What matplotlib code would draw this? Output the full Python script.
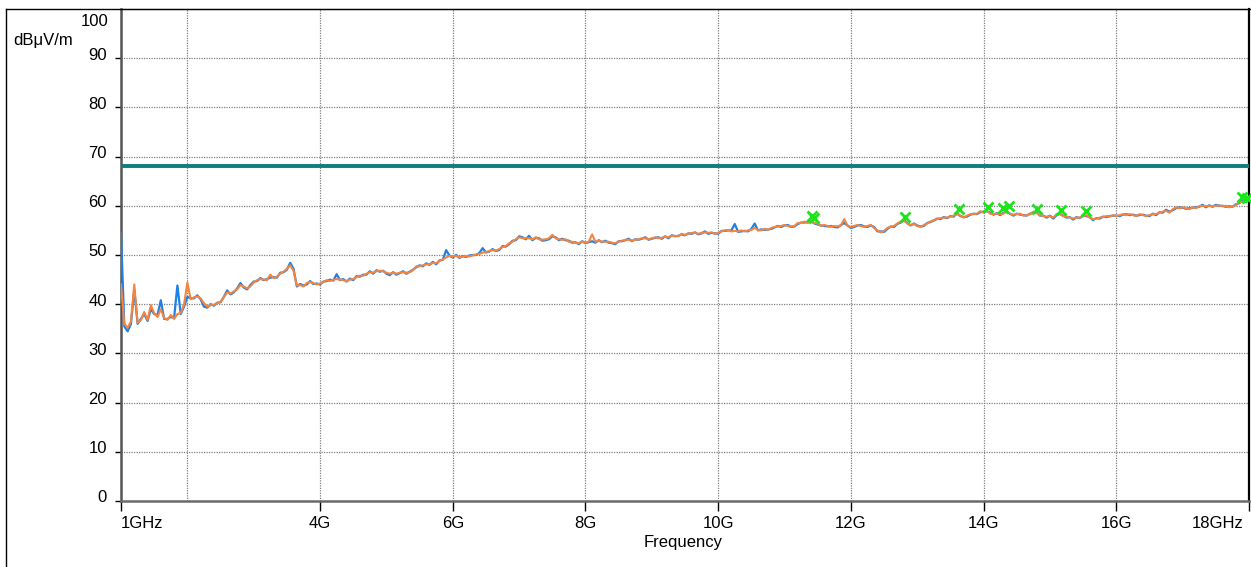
import matplotlib
matplotlib.use('Agg')
import matplotlib.pyplot as plt
import numpy as np
from matplotlib.transforms import ScaledTranslation
from matplotlib.lines import Line2D

plt.rcParams['font.family'] = ['Liberation Sans', 'DejaVu Sans']

# sweep grid in GHz (0.05 GHz steps, 1 - 18 GHz)
freq_ghz = np.round(np.arange(1.0, 18.0001, 0.05), 2)

# orange trace (dBuV/m)
orange_db = [
    44.0, 36.0, 35.2, 36.5, 44.0, 36.2, 36.8, 38.4, 36.8, 39.8,
    38.2, 37.4, 39.0, 37.2, 36.8, 37.8, 37.0, 38.0, 38.2, 39.9,
    44.4, 41.0, 41.4, 41.6, 41.2, 40.2, 39.5, 39.8, 39.9, 40.2,
    40.5, 41.4, 42.4, 42.2, 42.6, 43.0, 43.9, 43.6, 43.2, 43.6,
    44.4, 44.9, 45.1, 45.0, 44.9, 46.0, 45.3, 45.6, 46.2, 46.6,
    47.2, 47.9, 46.8, 43.8, 43.9, 43.6, 44.3, 44.5, 44.3, 44.0,
    44.2, 44.5, 44.9, 44.7, 45.0, 45.1, 45.0, 44.9, 44.7, 45.0,
    45.1, 45.5, 45.8, 45.8, 46.2, 46.5, 46.4, 46.7, 46.8, 46.7,
    46.4, 46.2, 46.4, 46.2, 46.4, 46.5, 46.4, 46.5, 46.9, 47.7,
    47.7, 47.9, 48.1, 48.1, 48.4, 48.3, 48.8, 49.1, 49.5, 49.8,
    49.7, 49.8, 49.5, 49.7, 49.8, 49.7, 49.9, 50.1, 50.2, 50.5,
    50.6, 50.8, 51.0, 50.9, 51.2, 51.6, 51.8, 52.4, 52.7, 53.2,
    53.6, 53.4, 53.4, 53.4, 53.2, 53.6, 53.2, 53.1, 53.2, 53.4,
    54.1, 53.4, 53.2, 53.1, 53.2, 52.7, 52.7, 52.5, 52.4, 52.7,
    52.5, 52.7, 54.2, 52.7, 52.9, 52.7, 52.7, 52.7, 52.5, 52.4,
    52.7, 52.9, 53.1, 53.1, 52.9, 53.1, 53.2, 53.4, 53.4, 53.2,
    53.4, 53.6, 53.4, 53.5, 53.7, 53.6, 53.9, 53.9, 53.8, 54.3,
    54.1, 54.3, 54.5, 54.5, 54.3, 54.5, 54.6, 54.5, 54.6, 54.3,
    54.5, 54.8, 55.0, 55.1, 54.8, 54.9, 54.8, 55.0, 54.8, 55.0,
    55.1, 55.5, 55.1, 55.0, 55.3, 55.1, 55.5, 55.7, 55.8, 55.9,
    56.1, 55.9, 55.8, 55.9, 56.5, 56.5, 56.8, 56.5, 56.8, 56.5,
    56.4, 55.9, 56.1, 55.9, 55.7, 55.9, 55.8, 56.0, 57.3, 55.9,
    55.7, 55.9, 56.1, 55.9, 55.7, 55.9, 56.1, 55.5, 55.0, 54.6,
    54.9, 55.5, 55.7, 55.9, 56.4, 56.8, 57.0, 56.4, 56.1, 56.3,
    55.9, 55.7, 56.1, 56.4, 56.8, 57.1, 57.3, 57.5, 57.6, 57.6,
    57.8, 58.0, 58.3, 58.0, 57.6, 58.0, 58.3, 58.3, 58.4, 58.9,
    58.6, 59.0, 58.4, 58.3, 58.4, 58.3, 58.4, 59.0, 58.3, 58.2,
    58.3, 58.4, 58.0, 58.1, 58.3, 58.8, 58.5, 58.1, 57.9, 57.8,
    57.9, 57.6, 58.3, 58.3, 57.9, 57.8, 57.6, 57.4, 57.6, 57.6,
    57.9, 58.1, 57.6, 57.3, 57.4, 57.6, 57.7, 57.9, 57.8, 58.1,
    57.9, 58.1, 58.3, 58.1, 58.3, 58.1, 57.9, 58.3, 58.1, 57.9,
    58.1, 58.3, 58.3, 58.6, 58.8, 59.0, 58.6, 59.3, 59.7, 59.5,
    59.7, 59.5, 59.3, 59.7, 59.5, 59.9, 60.0, 59.9, 60.0, 59.9,
    60.0, 60.1, 59.9, 60.0, 59.7, 59.9, 60.1, 60.7, 60.8, 61.0,
    61.2,
]

# blue trace (dBuV/m)
blue_db = [
    54.5, 35.5, 34.5, 36.0, 43.0, 36.0, 37.0, 38.0, 36.6, 39.0,
    38.0, 37.8, 40.8, 37.0, 37.0, 37.4, 37.2, 43.8, 38.0, 39.5,
    41.5, 41.2, 41.2, 41.8, 41.0, 39.5, 39.3, 40.0, 39.7, 40.3,
    40.4, 41.5, 42.8, 42.0, 42.4, 43.2, 44.3, 43.4, 43.0, 43.9,
    44.6, 44.7, 45.3, 44.9, 45.1, 45.4, 45.5, 45.4, 46.4, 46.5,
    47.0, 48.4, 47.2, 43.6, 44.1, 43.8, 44.0, 44.7, 44.1, 44.2,
    44.0, 44.6, 44.7, 45.0, 44.8, 46.1, 44.9, 45.1, 44.6, 45.2,
    44.9, 45.7, 45.6, 46.0, 46.0, 46.7, 46.2, 46.9, 46.6, 46.8,
    46.2, 45.9, 46.5, 46.0, 46.3, 46.7, 46.2, 46.6, 47.0, 47.5,
    47.9, 47.7, 48.3, 48.0, 48.6, 48.1, 48.9, 49.0, 51.0, 49.9,
    49.5, 50.0, 49.4, 49.8, 49.6, 49.9, 50.0, 50.0, 50.4, 51.4,
    50.5, 50.7, 51.2, 50.8, 51.0, 51.8, 51.7, 52.2, 52.9, 53.0,
    53.8, 53.6, 53.2, 53.9, 53.0, 53.5, 53.4, 52.9, 53.0, 53.2,
    53.8, 53.6, 53.0, 53.3, 53.0, 52.9, 52.5, 52.6, 52.2, 52.8,
    52.4, 52.6, 52.8, 52.5, 53.0, 52.6, 52.9, 52.5, 52.4, 52.2,
    52.8, 52.8, 53.0, 53.3, 52.8, 53.2, 53.1, 53.3, 53.6, 53.1,
    53.3, 53.5, 53.6, 53.3, 53.8, 53.4, 54.0, 53.8, 53.9, 54.2,
    54.0, 54.4, 54.3, 54.6, 54.2, 54.4, 54.8, 54.3, 54.5, 54.4,
    54.3, 54.9, 54.9, 55.0, 55.0, 56.3, 54.7, 54.8, 54.9, 54.8,
    55.3, 56.4, 55.0, 55.2, 55.1, 55.2, 55.3, 55.6, 55.9, 55.7,
    56.0, 56.1, 55.7, 55.8, 56.3, 56.6, 56.6, 56.7, 56.9, 56.4,
    56.2, 56.0, 55.9, 55.8, 55.9, 55.7, 55.6, 56.1, 56.5, 56.0,
    55.5, 55.7, 56.0, 56.1, 55.8, 55.7, 56.0, 55.7, 54.8, 54.8,
    54.7, 55.3, 55.8, 55.7, 56.3, 56.6, 57.1, 56.5, 56.0, 56.4,
    56.0, 55.8, 55.9, 56.5, 56.7, 57.0, 57.4, 57.3, 57.7, 57.5,
    57.9, 57.8, 58.5, 57.9, 57.7, 57.8, 58.2, 58.4, 58.3, 58.7,
    58.8, 58.9, 58.6, 58.2, 58.5, 58.1, 58.6, 58.8, 58.4, 58.0,
    58.4, 58.2, 58.1, 58.0, 58.4, 58.6, 58.7, 58.0, 58.0, 57.6,
    58.0, 57.4, 58.1, 58.4, 58.0, 57.6, 57.7, 57.2, 57.7, 57.5,
    58.0, 57.9, 57.7, 57.1, 57.5, 57.4, 57.8, 57.7, 57.9, 58.0,
    58.0, 57.9, 58.2, 58.3, 58.1, 58.2, 58.0, 58.1, 58.2, 58.0,
    57.9, 58.4, 58.1, 58.7, 58.6, 59.2, 58.8, 59.1, 59.5, 59.7,
    59.6, 59.4, 59.5, 59.6, 59.7, 59.8, 60.2, 59.7, 60.1, 59.8,
    60.2, 60.0, 60.0, 59.8, 59.9, 59.8, 60.3, 60.5, 61.0, 60.9,
    61.1,
]

# peak markers (green x)
marker_ghz = [11.42, 11.44, 12.82, 13.63, 14.07, 14.29, 14.38, 14.80, 15.17, 15.54, 17.89, 17.97]
marker_db = [57.9, 57.5, 57.8, 59.4, 59.7, 59.6, 59.9, 59.3, 59.1, 59.0, 61.8, 61.6]

limit_db = 68.0

x_ticks = [1, 4, 6, 8, 10, 12, 14, 16, 18]
x_tick_labels = ['1GHz', '4G', '6G', '8G', '10G', '12G', '14G', '16G', '18GHz']
x_grid = [2, 4, 6, 8, 10, 12, 14, 16]
y_ticks = [0, 10, 20, 30, 40, 50, 60, 70, 80, 90]

W, H = 1251, 567
fig = plt.figure(figsize=(W / 100, H / 100), dpi=100)
ax = fig.add_axes([121 / W, (H - 501) / H, 1128 / W, 492 / H])

ax.set_xlim(1, 18)
ax.set_ylim(0, 100)

# grid
for g in x_grid:
    ax.axvline(g, color='#808080', lw=0.9, ls=(0, (1, 1)), zorder=1)
for g in y_ticks[1:]:
    ax.axhline(g, color='#808080', lw=0.9, ls=(0, (1, 1)), zorder=1)

ax.axhline(limit_db, color='#0b7f7c', lw=2.8, zorder=3)

ax.plot(freq_ghz, blue_db, color='#1f80e6', lw=1.6, zorder=4)
ax.plot(freq_ghz, orange_db, color='#f5843f', lw=1.5, zorder=5)
ax.plot(marker_ghz, marker_db, ls='none', marker='x', ms=7, mew=2,
        color='#19e619', zorder=6, clip_on=False)

# spines
ax.spines['left'].set_color('#555555')
ax.spines['left'].set_linewidth(1.8)
ax.spines['bottom'].set_color('#6a6a6a')
ax.spines['bottom'].set_linewidth(1.8)
ax.spines['right'].set_color('black')
ax.spines['right'].set_linewidth(1.6)
ax.spines['top'].set_color('black')
ax.spines['top'].set_linewidth(0.8)

ax.set_xticks(x_ticks)
ax.set_xticklabels(x_tick_labels)
ax.set_yticks(y_ticks)
ax.tick_params(axis='x', direction='out', length=7.5, width=1, color='black',
               labelsize=12, pad=3)
ax.tick_params(axis='y', direction='out', length=4, width=1, color='black',
               labelsize=12, pad=6)

xl = ax.get_xticklabels()
xl[0].set_ha('left')
xl[-1].set_ha('right')
xl[-1].set_transform(xl[-1].get_transform() + ScaledTranslation(-0.06, 0, fig.dpi_scale_trans))
for lbl in ax.get_yticklabels():
    lbl.set_transform(lbl.get_transform() + ScaledTranslation(0, 0.045, fig.dpi_scale_trans))

fig.text(108 / W, 1 - 21 / H, '100', ha='right', va='center', fontsize=12)
fig.text(13 / W, 1 - 40 / H, 'dBμV/m', ha='left', va='center', fontsize=12)
fig.text(683 / W, 1 - 543 / H, 'Frequency', ha='center', va='center', fontsize=12)

# outer frame
fig.add_artist(Line2D([6 / W, 6 / W], [0, 1 - 9 / H], transform=fig.transFigure,
                      color='black', lw=1))
fig.add_artist(Line2D([6 / W, 1], [1 - 9 / H, 1 - 9 / H], transform=fig.transFigure,
                      color='black', lw=1))

fig.savefig('out.png', dpi=100)
plt.close(fig)
